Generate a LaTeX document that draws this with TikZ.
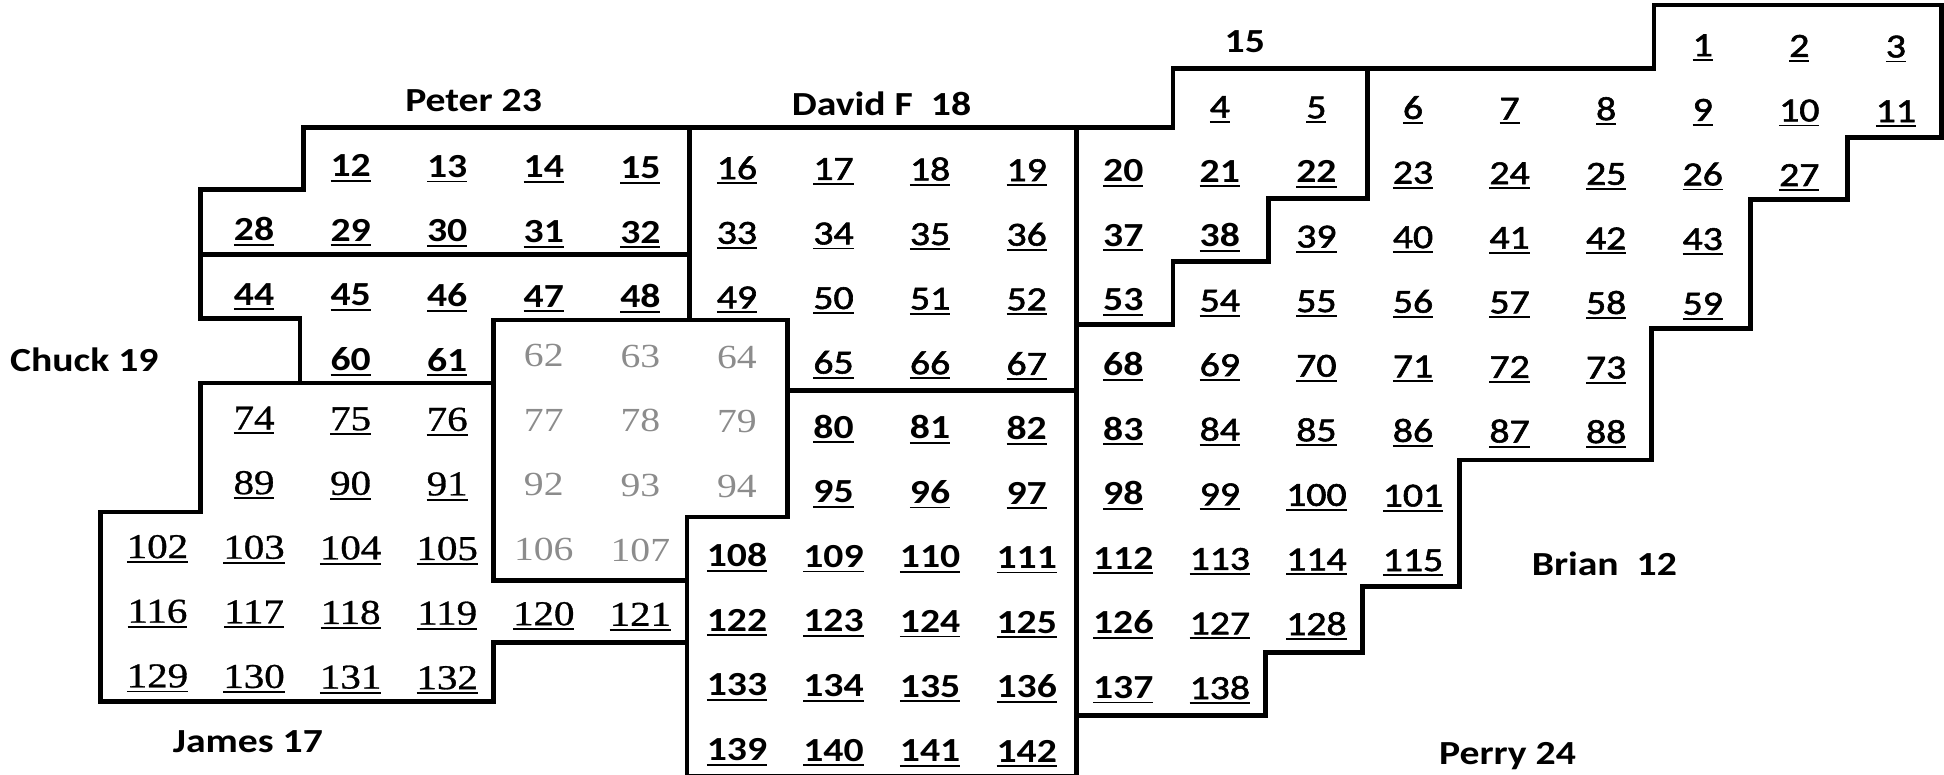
\documentclass[tikz,border=0pt]{standalone}
\usepackage{fontspec}
\setmainfont{Carlito}
\newfontfamily\semicarlito{Carlito}[RawFeature={embolden=1.6}]
\newfontfamily\timesnum{Liberation Serif}[RawFeature={embolden=0.8}]
\newfontfamily\timesfaint{Liberation Serif}
\usepackage{graphicx}
\newcommand\squash[1]{\scalebox{1}[0.85]{#1}}
\newcommand\ulin[1]{\vtop{\hbox{#1}\kern2.8pt\hrule height 1.8pt}}
\newcommand\fmtB[1]{\squash{\ulin{#1}}}
\newcommand\fmtR[1]{\squash{\ulin{#1}}}
\newcommand\fmtS[1]{\squash{\ulin{#1}}}
\newcommand\fmtF[1]{\squash{#1}}
\newcommand\cellrun[5]{%
  \pgfmathtruncatemacro\lastk{#5-1}%
  \foreach \k in {0,...,\lastk}{%
    \pgfmathtruncatemacro\nn{#2+\k}%
    \pgfmathsetmacro\xx{127+77.9*(#3+\k)}%
    \pgfmathsetmacro\yy{41+52.1*#4+0.0064*(\xx-700)}%
    \node[num#1] (n\nn) at (\xx,\yy) {\csname fmt#1\endcsname{\nn}};
  }}
\tikzset{
  every node/.style={inner sep=0pt, anchor=base},
  numB/.style={font=\fontsize{32}{38}\selectfont\bfseries},
  numR/.style={font=\semicarlito\fontsize{32}{38}\selectfont},
  numS/.style={font=\timesnum\fontsize{33}{38}\selectfont, yshift=4pt},
  numF/.style={font=\timesfaint\fontsize{32}{38}\selectfont, text=black!45, yshift=4pt},
  lbl/.style={font=\fontsize{32}{38}\selectfont\bfseries},
  border/.style={line width=3.8pt, line cap=rect, line join=miter}
}
\begin{document}
\begin{tikzpicture}[x=1pt,y=-1pt]
\useasboundingbox (0,0) rectangle (1568,625);
% numbers
\cellrun{R}{1}{16}{0}{3}
\cellrun{R}{4}{11}{1}{8}
\cellrun{B}{12}{2}{2}{4}
\cellrun{R}{16}{6}{2}{4}
\cellrun{B}{20}{10}{2}{3}
\cellrun{R}{23}{13}{2}{5}
\cellrun{B}{28}{1}{3}{5}
\cellrun{R}{33}{6}{3}{4}
\cellrun{B}{37}{10}{3}{2}
\cellrun{R}{39}{12}{3}{5}
\cellrun{B}{44}{1}{4}{5}
\cellrun{R}{49}{6}{4}{4}
\cellrun{B}{53}{10}{4}{1}
\cellrun{R}{54}{11}{4}{6}
\cellrun{B}{60}{2}{5}{2}
\cellrun{F}{62}{4}{5}{3}
\cellrun{R}{65}{7}{5}{3}
\cellrun{B}{68}{10}{5}{1}
\cellrun{R}{69}{11}{5}{5}
\cellrun{S}{74}{1}{6}{3}
\cellrun{F}{77}{4}{6}{3}
\cellrun{B}{80}{7}{6}{3}
\cellrun{B}{83}{10}{6}{1}
\cellrun{R}{84}{11}{6}{5}
\cellrun{S}{89}{1}{7}{3}
\cellrun{F}{92}{4}{7}{3}
\cellrun{B}{95}{7}{7}{3}
\cellrun{B}{98}{10}{7}{1}
\cellrun{R}{99}{11}{7}{3}
\cellrun{S}{102}{0}{8}{4}
\cellrun{F}{106}{4}{8}{2}
\cellrun{B}{108}{6}{8}{4}
\cellrun{B}{112}{10}{8}{1}
\cellrun{R}{113}{11}{8}{3}
\cellrun{S}{116}{0}{9}{6}
\cellrun{B}{122}{6}{9}{4}
\cellrun{B}{126}{10}{9}{1}
\cellrun{R}{127}{11}{9}{2}
\cellrun{S}{129}{0}{10}{4}
\cellrun{B}{133}{6}{10}{4}
\cellrun{B}{137}{10}{10}{1}
\cellrun{R}{138}{11}{10}{1}
\cellrun{B}{139}{6}{11}{4}
% labels
\node[lbl] (lPeter) at (382,90) {\squash{Peter 23}};
\node[lbl] (lDavid) at (711,93) {\squash{David F~~18}};
\node[lbl] (l15) at (1004,42) {\squash{15}};
\node[lbl] (lChuck) at (68,300) {\squash{Chuck 19}};
\node[lbl] (lJames) at (200,607) {\squash{James 17}};
\node[lbl] (lBrian) at (1294,464) {\squash{Brian~~12}};
\node[lbl] (lPerry) at (1216,617) {\squash{Perry 24}};
% borders
\draw[border] (162,257) -- (162,153) -- (245,153) -- (245,103) -- (946,103) -- (946,55) -- (1334,55) -- (1334,4) -- (1566,4) -- (1566,111) -- (1490,111) -- (1490,161) -- (1412,161) -- (1412,265) -- (1332,265) -- (1332,371) -- (1177,371) -- (1177,473) -- (1099,473) -- (1099,526) -- (1021,526) -- (1021,577) -- (868,577);
\draw[border] (162,257) -- (242,257) -- (242,309);
\draw[border] (162,205) -- (556,205);
\draw[border] (556,103) -- (556,258);
\draw[border] (398,258) -- (635,258) -- (635,417) -- (554,417) -- (554,630);
\draw[border] (635,315) -- (868,315);
\draw[border] (868,103) -- (868,630);
\draw[border] (162,309) -- (398,309);
\draw[border] (398,258) -- (398,468) -- (554,468);
\draw[border] (554,518) -- (398,518) -- (398,566) -- (81,566) -- (81,413) -- (162,413) -- (162,309);
\draw[border] (868,262) -- (946,262) -- (946,211) -- (1023,211) -- (1023,160) -- (1103,160) -- (1103,55);
\draw[border] (554,626) -- (868,626);
\end{tikzpicture}
\end{document}
